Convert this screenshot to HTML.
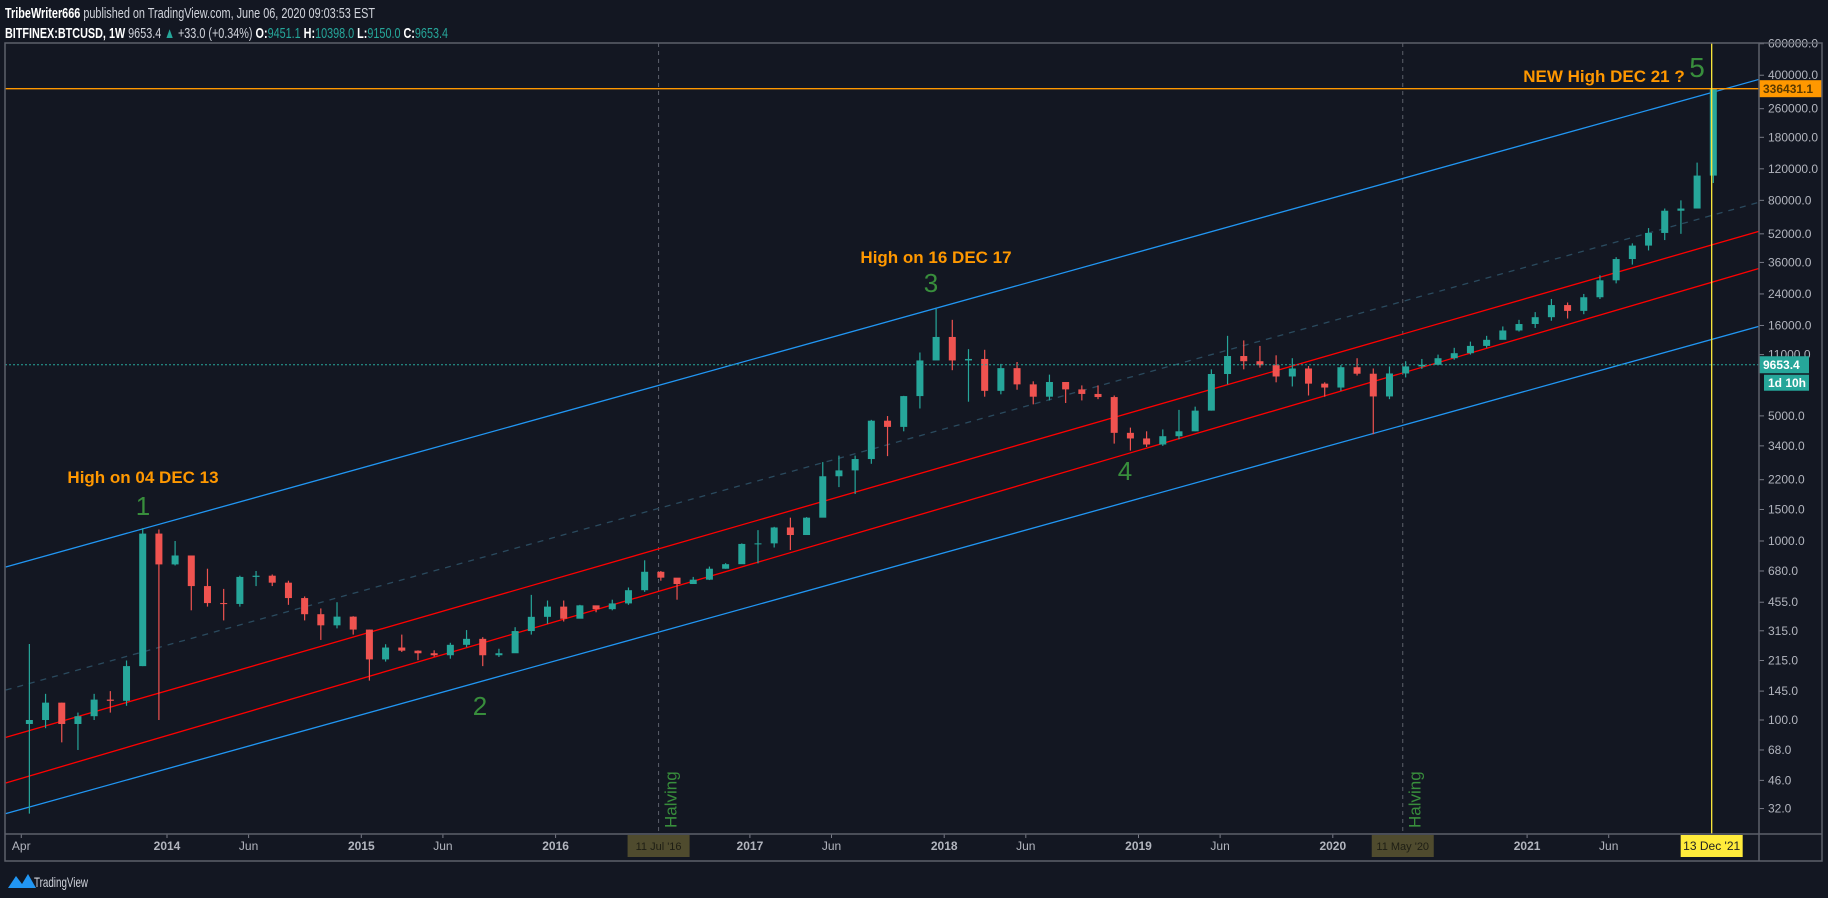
<!DOCTYPE html>
<html><head><meta charset="utf-8"><style>
html,body{margin:0;padding:0;background:#131722;}
svg{display:block;font-family:"Liberation Sans",sans-serif;}
</style></head><body>
<svg id="chart" width="1828" height="898" viewBox="0 0 1828 898" xmlns="http://www.w3.org/2000/svg">
<rect width="1828" height="898" fill="#131722"/>
<text x="5" y="18" font-size="15" fill="#d1d4dc" textLength="370" lengthAdjust="spacingAndGlyphs"><tspan font-weight="bold" fill="#fff">TribeWriter666</tspan> published on TradingView.com, June 06, 2020 09:03:53 EST</text>
<text x="5" y="38" font-size="15" fill="#d1d4dc" textLength="443" lengthAdjust="spacingAndGlyphs"><tspan font-weight="bold" fill="#fff">BITFINEX:BTCUSD, 1W</tspan> 9653.4 <tspan fill="#26a69a">▲</tspan> +33.0 (+0.34%) <tspan font-weight="bold" fill="#fff">O:</tspan><tspan fill="#26a69a">9451.1</tspan> <tspan font-weight="bold" fill="#fff">H:</tspan><tspan fill="#26a69a">10398.0</tspan> <tspan font-weight="bold" fill="#fff">L:</tspan><tspan fill="#26a69a">9150.0</tspan> <tspan font-weight="bold" fill="#fff">C:</tspan><tspan fill="#26a69a">9653.4</tspan></text>
<defs><clipPath id="plot"><rect x="5" y="43" width="1754" height="791"/></clipPath></defs>
<g id="plotg" clip-path="url(#plot)"></g>
<g id="axes"></g>
<rect x="5" y="43" width="1817" height="818" fill="none" stroke="#5d606b" stroke-width="1.5"/>
<line x1="1759" y1="43" x2="1759" y2="861" stroke="#5d606b" stroke-width="1.5"/>
<line x1="5" y1="834" x2="1822" y2="834" stroke="#5d606b" stroke-width="1.5"/>
<g>
<path d="M8 888 L16 876 L22 884 L28 874 L36 888 Z" fill="#2196f3"/>
<text x="34" y="887" font-size="14" fill="#d1d4dc" textLength="54" lengthAdjust="spacingAndGlyphs">TradingView</text>
</g>
</svg>
<script>
const monthsStart = 2013 + 3/12; // Apr 2013
const closes = [100,125,95,105,130,128,200,1100,740,
830,560,450,445,630,640,585,480,390,338,378,320,
218,254,244,236,230,263,284,230,236,314,377,430,
368,437,416,448,531,673,624,575,608,700,742,963,
970,1190,1080,1350,2300,2480,2870,4700,4340,6450,10200,13800,
10200,10400,6900,9240,7500,6400,7730,7030,6630,6370,4020,3740,
3460,3850,4100,5350,8570,10800,10100,9600,8300,9200,7570,7200,
9350,8600,6420,8630,9450,9650,10500,11200,12300,13300,15000,16300,
17800,20800,19300,23000,28600,37600,44700,52600,70000,72000,110000,336000];
const highs = [266,140,125,110,140,145,215,1180,1160,
1000,700,700,540,640,680,650,600,490,420,455,380,
320,265,300,245,245,270,318,290,250,330,500,465,
465,440,420,470,550,780,680,620,630,720,752,970,
1150,1200,1350,1360,2760,3000,3000,4750,4990,6470,11300,19800,
17200,11800,11700,9760,10000,7800,8500,7700,7400,7400,6500,4300,
4100,4200,5400,5630,9100,14000,13200,12300,10900,10500,9500,7700,
9600,10500,9200,9450,10100,10400,11000,12000,13000,14000,15800,17200,
19000,22500,21500,24000,30500,38500,46000,56000,72000,80000,130000,336431];
const lows = [30,90,75,68,100,110,120,200,100,
730,410,430,360,430,560,560,440,360,280,325,300,
166,212,240,216,226,220,255,200,225,238,300,345,
355,370,400,410,440,520,600,470,590,605,700,750,
750,920,890,1090,1360,2000,1830,2700,2980,4100,5500,10800,
9000,6000,6400,6600,7000,5800,6100,5900,6100,6200,3500,3200,
3350,3400,3700,4100,5350,7500,9100,9300,7700,7300,6500,6400,
6900,8400,3950,6200,8200,9150,9600,10300,11000,12000,13600,14800,
15500,17000,17500,18500,22500,27500,35000,42000,48000,52000,88000,100000];
const firstOpen = 95;
const priceTicks = [600000,400000,260000,180000,120000,80000,52000,36000,24000,16000,11000,5000,3400,2200,1500,1000,680,455,315,215,145,100,68,46,32];
const timeTicks = [[2013.25,"Apr",0],[2014,"2014",1],[2014.42,"Jun",0],[2015,"2015",1],[2015.42,"Jun",0],[2016,"2016",1],[2017,"2017",1],[2017.42,"Jun",0],[2018,"2018",1],[2018.42,"Jun",0],[2019,"2019",1],[2019.42,"Jun",0],[2020,"2020",1],[2021,"2021",1],[2021.42,"Jun",0]];
const channelBlueUpper = [[2013.17,716],[2022.2,381000]];
const channelBlueLower = [[2013.17,30],[2022.2,15900]];
const channelRedUpper = [[2013.17,80],[2022.2,54000]];
const channelRedLower = [[2013.17,44.5],[2022.2,33500]];
const channelMid = [[2013.17,147],[2022.2,78400]];
const lastPrice = 9653.4, targetPrice = 336431.1;
const halvings = [[2016.53,"11 Jul '16"],[2020.36,"11 May '20"]];
const targetDate = 2021.95;

const X = t => 167 + (t-2014)*194.3;
const Y = p => 720 - 179*(Math.log10(p)-2);
const NS = "http://www.w3.org/2000/svg";
const plot = document.getElementById('plotg'), axes = document.getElementById('axes');
function mk(tag, attrs, parent, text){const e=document.createElementNS(NS,tag);for(const k in attrs)e.setAttribute(k,attrs[k]);if(text!==undefined)e.textContent=text;parent.appendChild(e);return e;}

halvings.forEach(h=>{
  const l=mk('line',{x1:X(h[0]),y1:43,x2:X(h[0]),y2:834,stroke:'#5d606b','stroke-dasharray':'4 4','stroke-width':1},plot);
  
  
  const t=mk('text',{x:0,y:0,transform:`translate(${X(h[0])+18},828) rotate(-90)`,'font-size':17,fill:'#388e3c'},plot,'Halving');
  
  
});
function chan(pts,color,dash,name){
  const l=mk('line',{x1:X(pts[0][0]),y1:Y(pts[0][1]),x2:X(pts[1][0]),y2:Y(pts[1][1]),stroke:color,'stroke-width':1.3},plot);
  if(dash) l.setAttribute('stroke-dasharray',dash);
  
  
}
chan(channelBlueUpper,'#2196f3',null,'channel-upper-blue');
chan(channelBlueLower,'#2196f3',null,'channel-lower-blue');
chan(channelRedUpper,'#f00',null,'channel-upper-red');
chan(channelRedLower,'#f00',null,'channel-lower-red');
chan(channelMid,'#2a4a5e','6 6','channel-midline');
let prev = firstOpen;
closes.forEach((c,i)=>{
  const t = monthsStart + (i+0.5)/12, x = X(t), o = prev, up = c>=o;
  const col = up ? '#26a69a' : '#ef5350';
  const g = mk('g',{},plot);
  
  
  mk('line',{x1:x,x2:x,y1:Y(highs[i]),y2:Y(lows[i]),stroke:col,'stroke-width':1.2},g);
  const y1=Y(Math.max(o,c)), y2=Y(Math.min(o,c));
  mk('rect',{x:x-3.5,y:y1,width:7,height:Math.max(1,y2-y1),fill:col},g);
  prev = c;
});
const ol=mk('line',{x1:5,x2:1759,y1:Y(targetPrice),y2:Y(targetPrice),stroke:'#ff9800','stroke-width':1.3},plot);


const cl=mk('line',{x1:5,x2:1759,y1:Y(lastPrice),y2:Y(lastPrice),stroke:'#26a69a','stroke-dasharray':'2 2','stroke-width':1},plot);


const yl=mk('line',{x1:X(targetDate),x2:X(targetDate),y1:43,y2:834,stroke:'#ffeb3b','stroke-width':1.3},plot);


const notes=[[143,483,'High on 04 DEC 13','#ff9800',17,'bold','annotation-high-2013'],[143,515,'1','#388e3c',26,'normal','wave-label-1'],[480,715,'2','#388e3c',26,'normal','wave-label-2'],[936,263,'High on 16 DEC 17','#ff9800',17,'bold','annotation-high-2017'],[931,292,'3','#388e3c',26,'normal','wave-label-3'],[1125,480,'4','#388e3c',26,'normal','wave-label-4'],[1604,82,'NEW High DEC 21 ?','#ff9800',17,'bold','annotation-new-high-2021'],[1697,77,'5','#388e3c',28,'normal','wave-label-5']];
notes.forEach(n=>{
  const t=mk('text',{x:n[0],y:n[1],fill:n[3],'font-size':n[4],'font-weight':n[5],'text-anchor':'middle'},plot,n[2]);
  
  
});
priceTicks.forEach(p=>{
  const y=Y(p);
  mk('line',{x1:1759,x2:1764,y1:y,y2:y,stroke:'#787b86'},axes);
  const t=mk('text',{x:1768,y:y+4,'font-size':12,fill:'#b2b5be'},axes,p.toFixed(1));
  
  
});
function tag(y,h,fill,txt,tc,name,x,w){
  const g=mk('g',{},axes);
  
  
  mk('rect',{x:x,y:y-h/2,width:w,height:h,fill:fill},g);
  mk('text',{x:x+4,y:y+4.5,'font-size':12,fill:tc,'font-weight':'bold'},g,txt);
}
tag(Y(targetPrice),17,'#ff9800',targetPrice.toFixed(1),'#5a3a00','target-price-tag',1759,63);
tag(Y(lastPrice),17,'#26a69a',lastPrice.toFixed(1),'#fff','last-price-tag',1759,50);
tag(Y(lastPrice)+18,16,'#26a69a','1d 10h','#fff','countdown-tag',1764,45);
timeTicks.forEach(tt=>{
  const x=X(tt[0]);
  mk('line',{x1:x,x2:x,y1:834,y2:838,stroke:'#787b86'},axes);
  const t=mk('text',{x:x,y:850,'font-size':12,fill:'#b2b5be','text-anchor':'middle','font-weight':tt[2]?'bold':'normal'},axes,tt[1]);
  
  
});
halvings.forEach(h=>{
  const x=X(h[0]);
  const g=mk('g',{},axes);
  
  
  mk('rect',{x:x-31,y:835,width:62,height:22,fill:'#5b5530','opacity':0.85},g);
  mk('text',{x:x,y:850,'font-size':11,fill:'#1e1e14','text-anchor':'middle'},g,h[1]);
});
const dg=mk('g',{},axes);


mk('rect',{x:X(targetDate)-31,y:835,width:62,height:22,fill:'#ffeb3b'},dg);
mk('text',{x:X(targetDate),y:850,'font-size':12,fill:'#222','text-anchor':'middle'},dg,"13 Dec '21");
</script>
</body></html>
